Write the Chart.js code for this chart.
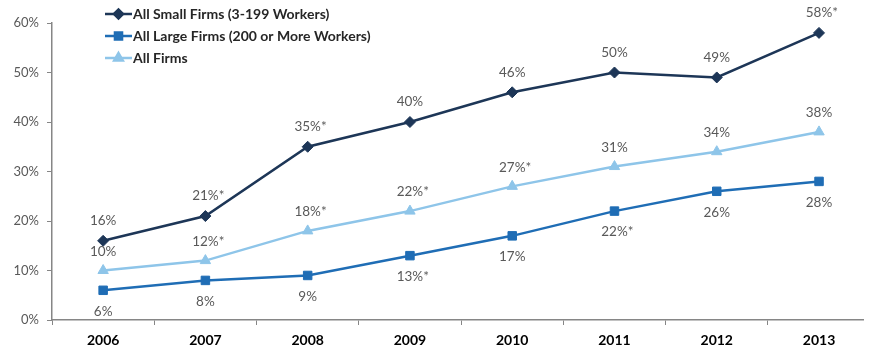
<!DOCTYPE html>
<html>
<head>
<meta charset="utf-8">
<script src="https://cdn.jsdelivr.net/npm/chart.js@4/dist/chart.umd.min.js"></script>
<style>
  html, body { margin: 0; padding: 0; background: #fff; overflow: hidden; }
  canvas { display: block; }
</style>
</head>
<body>
<canvas id="firmsChart" width="870" height="349"></canvas>
<script>
const years = ['2006', '2007', '2008', '2009', '2010', '2011', '2012', '2013'];
const smallFirms = [16, 21, 35, 40, 46, 50, 49, 58];
const largeFirms = [6, 8, 9, 13, 17, 22, 26, 28];
const allFirms = [10, 12, 18, 22, 27, 31, 34, 38];
// years with a statistically significant change from the prior year
const smallStars = [false, true, true, false, false, false, false, true];
const largeStars = [false, false, false, true, false, true, false, false];
const allStars = [false, true, true, true, true, false, false, false];

const NAVY = '#1d3657';
const BLUE = '#1f6db5';
const LIGHT = '#8ec5e9';
const FONT = 'Lato, "Open Sans", sans-serif';

// years sit on an index axis so the last slot can run off the edge
const toPoints = arr => arr.map((v, i) => ({ x: i, y: v }));

// value labels above/below each point, asterisk hangs off the number
const pointLabels = {
  id: 'pointLabels',
  afterDatasetsDraw(chart) {
    const ctx = chart.ctx;
    ctx.save();
    ctx.font = '13.5px ' + FONT;
    ctx.fillStyle = '#595959';
    ctx.textBaseline = 'middle';
    ctx.textAlign = 'left';
    chart.data.datasets.forEach((ds, i) => {
      const meta = chart.getDatasetMeta(i);
      meta.data.forEach((pt, j) => {
        const num = ds.values[j] + '%';
        const w = ctx.measureText(num).width;
        const txt = num + (ds.stars[j] ? '*' : '');
        ctx.fillText(txt, pt.x - w / 2, pt.y + ds.labelOffset);
      });
    });
    ctx.restore();
  }
};

// legend drawn as line + marker samples
const lineLegend = {
  id: 'lineLegend',
  afterDraw(chart) {
    const ctx = chart.ctx;
    ctx.save();
    ctx.font = 'bold 14px ' + FONT;
    ctx.textBaseline = 'middle';
    chart.data.datasets.forEach((ds, i) => {
      const y = 14 + i * 22;
      ctx.strokeStyle = ds.borderColor;
      ctx.lineWidth = 2.5;
      ctx.beginPath();
      ctx.moveTo(105, y);
      ctx.lineTo(132, y);
      ctx.stroke();
      Chart.helpers.drawPoint(ctx, {
        pointStyle: ds.pointStyle,
        radius: ds.pointRadius - 1,
        borderWidth: 1
      }, 118.5, y);
      ctx.fillStyle = ds.borderColor;
      ctx.fill();
      ctx.fillStyle = '#262626';
      ctx.textAlign = 'left';
      ctx.fillText(ds.label, 133, y);
    });
    ctx.restore();
  }
};

new Chart(document.getElementById('firmsChart'), {
  type: 'line',
  data: {
    datasets: [
      {
        label: 'All Small Firms (3-199 Workers)',
        data: toPoints(smallFirms),
        values: smallFirms,
        stars: smallStars,
        labelOffset: -20,
        borderColor: NAVY,
        backgroundColor: NAVY,
        pointStyle: 'rectRot',
        pointRadius: 5.5
      },
      {
        label: 'All Large Firms (200 or More Workers)',
        data: toPoints(largeFirms),
        values: largeFirms,
        stars: largeStars,
        labelOffset: 21,
        borderColor: BLUE,
        backgroundColor: BLUE,
        pointStyle: 'rect',
        pointRadius: 6
      },
      {
        label: 'All Firms',
        data: toPoints(allFirms),
        values: allFirms,
        stars: allStars,
        labelOffset: -19,
        borderColor: LIGHT,
        backgroundColor: LIGHT,
        pointStyle: 'triangle',
        pointRadius: 6
      }
    ]
  },
  options: {
    responsive: false,
    animation: false,
    elements: {
      line: { borderWidth: 2.5, tension: 0 },
      point: { borderWidth: 1 }
    },
    layout: { padding: { top: 23, right: 0, left: 0, bottom: 0 } },
    plugins: {
      legend: { display: false },
      tooltip: { enabled: false }
    },
    scales: {
      x: {
        type: 'linear',
        min: -0.5,
        max: 7.43,
        grid: { offset: true, drawOnChartArea: false, tickLength: 5, color: '#868686' },
        border: { color: '#868686', width: 1.5 },
        ticks: {
          color: '#000',
          font: { family: FONT, size: 14, weight: 'bold' },
          padding: 7,
          autoSkip: false,
          maxRotation: 0,
          callback: v => years[v]
        },
        afterBuildTicks(scale) { scale.ticks = years.map((_, i) => ({ value: i })); },
        afterFit(scale) { scale.height = 29; }
      },
      y: {
        min: 0,
        max: 60,
        grid: { drawOnChartArea: false, tickLength: 5, color: '#868686' },
        border: { color: '#868686', width: 1.5 },
        ticks: {
          stepSize: 10,
          color: '#595959',
          font: { family: FONT, size: 13 },
          padding: 8,
          callback: v => v + '%'
        },
        afterFit(scale) { scale.width = 52; }
      }
    }
  },
  plugins: [pointLabels, lineLegend]
});
</script>
</body>
</html>
